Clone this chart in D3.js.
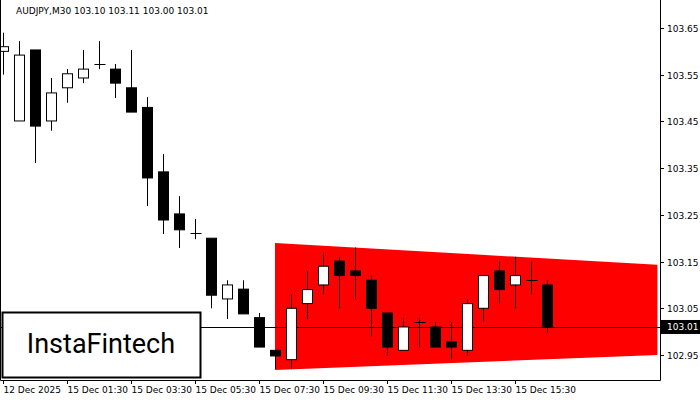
<!DOCTYPE html><html><head><meta charset="utf-8"><script src="https://cdn.jsdelivr.net/npm/d3@7"></script>
<style>body{margin:0;background:#fff}svg{font-family:"DejaVu Sans",sans-serif}</style></head><body><svg id="c" width="700" height="400"></svg>
<script>
const open  =[103.60,103.451,103.603,103.451,103.522,103.543,103.573,103.562,103.522,103.48,103.342,103.252,103.211,103.2,103.07,103.091,103.03,102.96,102.94,103.06,103.10,103.151,103.13,103.11,103.04,102.96,103.02,103.01,102.978,102.96,103.05,103.13,103.10,103.11,103.10];
const close =[103.61,103.592,103.44,103.511,103.552,103.562,103.573,103.532,103.47,103.329,103.239,103.218,103.211,103.078,103.10,103.038,102.967,102.948,103.05,103.09,103.14,103.12,103.12,103.05,102.967,103.01,103.02,102.967,102.967,103.06,103.12,103.09,103.12,103.11,103.01];
const high  =[103.64,103.622,103.603,103.543,103.562,103.603,103.622,103.573,103.603,103.502,103.38,103.29,103.241,103.2,103.11,103.11,103.04,102.96,103.08,103.13,103.17,103.16,103.18,103.12,103.04,103.03,103.03,103.02,103.02,103.07,103.12,103.15,103.16,103.15,103.11];
const low   =[103.55,103.451,103.361,103.43,103.49,103.532,103.562,103.50,103.47,103.269,103.209,103.179,103.198,103.05,103.027,103.038,102.967,102.92,102.92,103.027,103.08,103.05,103.07,102.99,102.948,102.96,102.967,102.967,102.94,102.948,103.02,103.06,103.05,103.08,102.997];
const yTicks=[103.65,103.55,103.45,103.35,103.25,103.15,103.05,102.95];
const xLabels=["12 Dec 2025","15 Dec 01:30","15 Dec 03:30","15 Dec 05:30","15 Dec 07:30","15 Dec 09:30","15 Dec 11:30","15 Dec 13:30","15 Dec 15:30"];
const xLabelIdx=[0,4,8,12,16,20,24,28,32];
const triTop=[103.19,103.143], triBot=[102.918,102.95], triIdx=[17,40.9];
const last=103.01;
const svg=d3.select("#c");
const W=660,H=380;
const x=d3.scaleLinear().domain([0,1]).range([3,19]);
const y=d3.scaleLinear().domain([102.95,103.65]).range([355,28]);
svg.append("defs").append("clipPath").attr("id","cp").append("rect").attr("x",0).attr("y",0).attr("width",W).attr("height",H);
const g=svg.append("g").attr("clip-path","url(#cp)");
g.append("polygon").attr("fill","#ff0000").attr("points",[[x(triIdx[0]),y(triTop[0])],[x(triIdx[1]),y(triTop[1])],[x(triIdx[1]),y(triBot[1])],[x(triIdx[0]),y(triBot[0])]].map(p=>p.join(",")).join(" "));
g.append("line").attr("x1",0).attr("x2",W).attr("y1",Math.round(y(last))+.5).attr("y2",Math.round(y(last))+.5).attr("stroke","#000");
open.forEach((o,i)=>{const c=close[i],cx=Math.round(x(i))+.5;
 g.append("line").attr("x1",cx).attr("x2",cx).attr("y1",y(high[i])).attr("y2",y(low[i])).attr("stroke","#000");
 const t=y(Math.max(o,c)),b=y(Math.min(o,c));
 if(Math.abs(b-t)<1.5){g.append("line").attr("x1",cx-5).attr("x2",cx+6).attr("y1",Math.round(t)+.5).attr("y2",Math.round(t)+.5).attr("stroke","#000");}
 else g.append("rect").attr("x",cx-5).attr("y",t).attr("width",10).attr("height",b-t).attr("fill",c>o?"#fff":"#000").attr("stroke","#000");
});
svg.append("path").attr("d",`M0.5,0V${H+.5}H${W+.5}V0`).attr("fill","none").attr("stroke","#000");
yTicks.forEach(v=>{const yy=Math.round(y(v))+.5;
 svg.append("line").attr("x1",W).attr("x2",W+4).attr("y1",yy).attr("y2",yy).attr("stroke","#000");
 svg.append("text").attr("x",667).attr("y",yy+3.5).attr("font-size",9).text(v.toFixed(2));});
svg.append("rect").attr("x",W+1).attr("y",y(last)-7).attr("width",39).attr("height",14).attr("fill","#000");
svg.append("text").attr("x",667).attr("y",y(last)+3.5).attr("font-size",9).attr("fill","#fff").text(last.toFixed(2));
xLabels.forEach((l,k)=>{const xx=Math.round(x(xLabelIdx[k]))+.5;
 svg.append("line").attr("x1",xx).attr("x2",xx).attr("y1",H).attr("y2",H+4).attr("stroke","#000");
 svg.append("text").attr("x",xx).attr("y",H+13).attr("font-size",9).text(l);});
svg.append("text").attr("x",16).attr("y",14).attr("font-size",9).text("AUDJPY,M30  103.10 103.11 103.00 103.01");
svg.append("rect").attr("x",2.5).attr("y",312.5).attr("width",198).attr("height",65).attr("fill","#fff").attr("stroke","#000").attr("stroke-width",2);
svg.append("text").attr("x",101).attr("y",353).attr("text-anchor","middle").attr("font-size",27).attr("font-family","Roboto, sans-serif").text("InstaFintech");
</script></body></html>
